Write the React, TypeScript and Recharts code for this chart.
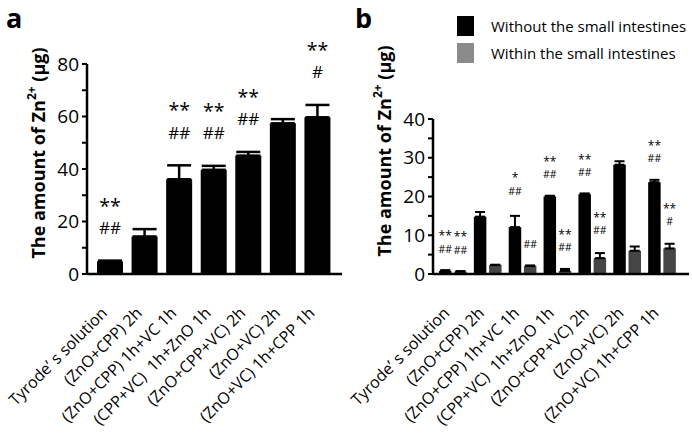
import React from 'react';
import { BarChart, Bar, XAxis, YAxis, ErrorBar, LabelList, Legend } from 'recharts';

const categories = [
  'Tyrode’ s solution',
  '(ZnO+CPP) 2h',
  '(ZnO+CPP) 1h+VC 1h',
  '(CPP+VC)  1h+ZnO 1h',
  '(ZnO+CPP+VC) 2h',
  '(ZnO+VC) 2h',
  '(ZnO+VC) 1h+CPP 1h',
];

// Panel a
const aValues = [4.8, 14.3, 36.1, 39.7, 45.1, 57.4, 59.7];
const aErrors = [0.3, 2.8, 5.3, 1.5, 1.4, 1.6, 4.7];
const aSigTop = ['**', '', '**', '**', '**', '', '**'];
const aSigBottom = ['##', '', '##', '##', '##', '', '#'];
const aTicks = [0, 10, 20, 30, 40, 50, 60, 70, 80];

// Panel b
const bWithout = [0.8, 14.8, 12.1, 20.0, 20.6, 28.2, 23.7];
const bWithoutErr = [0.2, 1.2, 2.9, 0.2, 0.2, 0.9, 0.6];
const bWithin = [0.6, 2.3, 2.1, 0.8, 4.1, 6.0, 6.6];
const bWithinErr = [0.15, 0.1, 0.1, 0.5, 1.3, 1.1, 1.2];
const bWithoutSigTop = ['**', '', '*', '**', '**', '', '**'];
const bWithoutSigBottom = ['##', '', '##', '##', '##', '', '##'];
const bWithinSigTop = ['**', '', '', '**', '**', '', '**'];
const bWithinSigBottom = ['##', '', '##', '##', '##', '', '#'];
const bTicks = [0, 5, 10, 15, 20, 25, 30, 35, 40];

const seriesNames = ['Without the small intestines', 'Within the small intestines'];

const dataA = categories.map((name, i) => ({
  name,
  value: aValues[i],
  err: [0, aErrors[i]],
}));

const dataB = categories.map((name, i) => ({
  name,
  without: bWithout[i],
  withoutErr: [0, bWithoutErr[i]],
  within: bWithin[i],
  withinErr: [0, bWithinErr[i]],
}));

const FONT = '"Open Sans", "Noto Sans", sans-serif';
const BLACK = '#000000';
const GRAY = '#454545';
const LEGEND_GRAY = '#8b8b8b';

const YLabel = (cx: number, cy: number) => (
  <text
    x={cx}
    y={cy}
    transform={`rotate(-90 ${cx} ${cy})`}
    textAnchor="middle"
    dominantBaseline="central"
    fontFamily={FONT}
    fontWeight="bold"
    fontSize={18}
    fill="#000"
  >
    The amount of Zn
    <tspan fontSize={12} dy={-7}>2+</tspan>
    <tspan dy={7}> (μg)</tspan>
  </text>
);

const XTick = (props: any) => {
  const { x, y, payload } = props;
  const ax = x - 2;
  const ay = y + 40;
  return (
    <text
      x={ax}
      y={ay}
      transform={`rotate(-45 ${ax} ${ay})`}
      textAnchor="end"
      fontFamily={FONT}
      fontSize={16}
      fill="#000"
      style={{ whiteSpace: 'pre' }}
    >
      {payload.value}
    </text>
  );
};

const makeSig = (
  top: string[],
  bottom: string[],
  errs: number[],
  ppu: number,
  gap: number,
  lineGap: number,
  fontSize: number,
) => (props: any) => {
  const { x, y, width, index } = props;
  if (index == null) return null;
  const errTop = y - errs[index] * ppu;
  const cx = x + width / 2;
  const lowY = errTop - gap;
  return (
    <g>
      {bottom[index] ? (
        <text x={cx} y={lowY} textAnchor="middle" dominantBaseline="central" fontFamily={FONT} fontSize={fontSize} fill="#000">
          {bottom[index]}
        </text>
      ) : null}
      {top[index] ? (
        <text x={cx} y={lowY - lineGap + fontSize * 0.2} textAnchor="middle" dominantBaseline="central" fontFamily={FONT} fontSize={fontSize * 1.15} fill="#000">
          {top[index]}
        </text>
      ) : null}
    </g>
  );
};

const yFmtA = (v: number) => (v % 20 === 0 ? String(v) : '');
const yFmtB = (v: number) => (v % 10 === 0 ? String(v) : '');

const LegendContent = () => (
  <div style={{ fontFamily: FONT, fontSize: 15, color: '#000' }}>
    {seriesNames.map((n, i) => (
      <div key={n} style={{ display: 'flex', alignItems: 'center', height: 27.5 }}>
        <div style={{ width: 17, height: 20, background: i === 0 ? BLACK : LEGEND_GRAY, marginRight: 17 }} />
        <span style={{ whiteSpace: 'nowrap' }}>{n}</span>
      </div>
    ))}
  </div>
);

const titleStyle: React.CSSProperties = {
  position: 'absolute',
  top: 4,
  fontFamily: FONT,
  fontWeight: 'bold',
  fontSize: 27,
  lineHeight: '27px',
};

export default function App() {
  const axisStroke = { stroke: '#000', strokeWidth: 2.5 };
  return (
    <div style={{ position: 'absolute', left: 0, top: 0, width: 692, height: 439, background: '#fff' }}>
      <div style={{ ...titleStyle, left: 6 }}>a</div>
      <div style={{ ...titleStyle, left: 355 }}>b</div>
      <div style={{ position: 'absolute', left: 0, top: 0 }}>
        <BarChart width={346} height={439} data={dataA} margin={{ top: 64, right: 4, bottom: 0, left: 0 }}>
          <XAxis
            dataKey="name"
            interval={0}
            tick={XTick}
            tickLine={false}
            tickSize={0}
            tickMargin={0}
            height={165}
            axisLine={axisStroke}
            padding={{ left: 6, right: 7 }}
          />
          <YAxis
            domain={[0, 80]}
            ticks={aTicks}
            tickFormatter={yFmtA}
            interval={0}
            width={87}
            tickSize={5}
            tickMargin={3}
            axisLine={axisStroke}
            tickLine={{ stroke: '#000', strokeWidth: 2 }}
            tick={{ fill: '#000', fontSize: 19, fontFamily: FONT }}
            label={{ content: () => YLabel(38, 153) }}
          />
          <Bar dataKey="value" fill={BLACK} barSize={26} isAnimationActive={false}>
            <ErrorBar dataKey="err" width={12} stroke="#000" strokeWidth={2.5} direction="y" />
            <LabelList dataKey="value" content={makeSig(aSigTop, aSigBottom, aErrors, 210 / 80, 33, 26, 17)} />
          </Bar>
        </BarChart>
      </div>
      <div style={{ position: 'absolute', left: 346, top: 0 }}>
        <BarChart width={346} height={439} data={dataB} margin={{ top: 64, right: 3, bottom: 0, left: 0 }} barGap={2.7}>
          <XAxis
            dataKey="name"
            interval={0}
            tick={XTick}
            tickLine={false}
            tickSize={0}
            tickMargin={0}
            height={165}
            axisLine={axisStroke}
            padding={{ left: 2, right: 10 }}
          />
          <YAxis
            domain={[0, 40]}
            ticks={bTicks}
            tickFormatter={yFmtB}
            interval={0}
            width={87}
            tickSize={5}
            tickMargin={3}
            axisLine={axisStroke}
            tickLine={{ stroke: '#000', strokeWidth: 2 }}
            tick={{ fill: '#000', fontSize: 19, fontFamily: FONT }}
            label={{ content: () => YLabel(38, 151) }}
          />
          <Legend
            verticalAlign="top"
            content={LegendContent}
            wrapperStyle={{ position: 'absolute', left: 111, top: 12, width: 235 }}
          />
          <Bar dataKey="without" name={seriesNames[0]} fill={BLACK} barSize={12.5} isAnimationActive={false}>
            <ErrorBar dataKey="withoutErr" width={5} stroke="#000" strokeWidth={2} direction="y" />
            <LabelList dataKey="without" content={makeSig(bWithoutSigTop, bWithoutSigBottom, bWithoutErr, 210 / 40, 21, 15, 10.5)} />
          </Bar>
          <Bar dataKey="within" name={seriesNames[1]} fill={GRAY} barSize={12.5} isAnimationActive={false}>
            <ErrorBar dataKey="withinErr" width={5} stroke="#000" strokeWidth={2} direction="y" />
            <LabelList dataKey="within" content={makeSig(bWithinSigTop, bWithinSigBottom, bWithinErr, 210 / 40, 21, 15, 10.5)} />
          </Bar>
        </BarChart>
      </div>
    </div>
  );
}
